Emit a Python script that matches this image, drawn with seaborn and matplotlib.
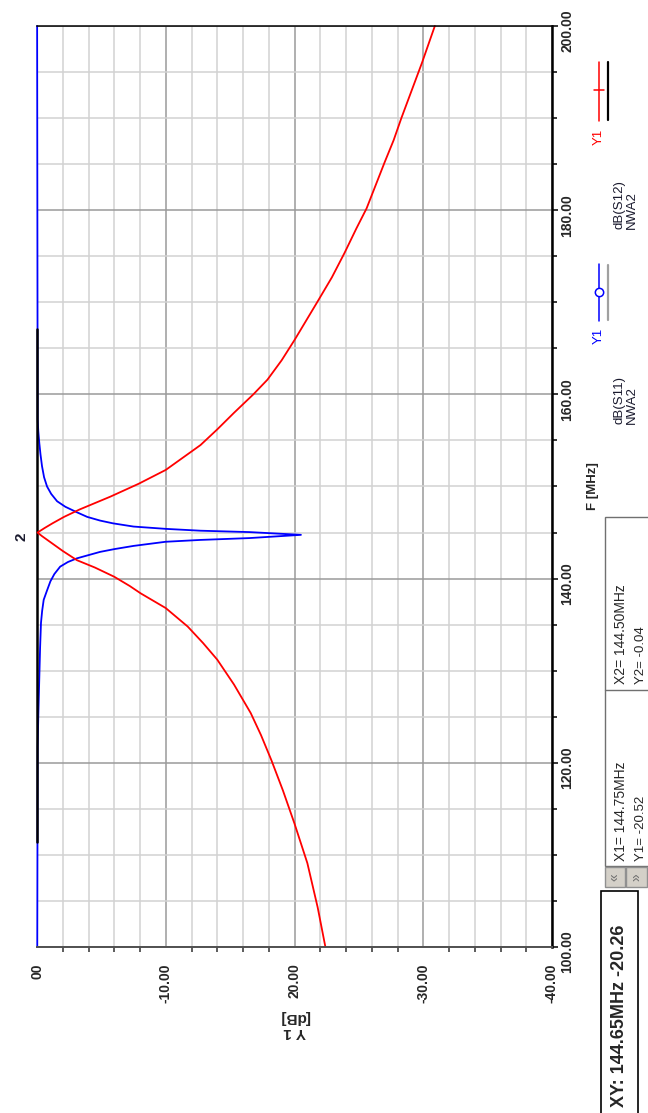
import numpy as np
import pandas as pd
import seaborn as sns
import matplotlib.pyplot as plt
import matplotlib.transforms as mtransforms
from matplotlib.ticker import MultipleLocator
from matplotlib.lines import Line2D
from matplotlib.patches import Rectangle

# S12 (red) trace: frequency [MHz] and level [dB]
freq_s12 = [100, 104.3, 109.1, 113.4, 117.0, 120.3, 123.0, 125.4, 128.5, 131.2, 133.0,
            134.8, 136.8, 138.4, 139.2, 140.2, 141.2, 142.0, 143.0, 144.0, 144.6, 145.0,
            145.5, 146.0, 146.7, 147.5, 148.9, 150.3, 151.8, 153.2, 154.5, 156.2, 158.0,
            160.0, 161.6, 163.7, 165.9, 168.0, 170.1, 172.7, 175.4, 178.0, 180.2, 182.7,
            185.2, 187.6, 190.0, 193.0, 196.0, 200]
s12_db = [-22.4, -21.8, -21.0, -20.0, -19.1, -18.2, -17.4, -16.6, -15.3, -14.0, -12.9,
          -11.7, -10.0, -8.05, -7.2, -6.0, -4.5, -3.1, -2.0, -1.0, -0.4, -0.04,
          -0.6, -1.2, -2.1, -3.3, -5.7, -7.9, -10.0, -11.4, -12.7, -14.0, -15.3,
          -16.8, -17.9, -19.0, -20.0, -20.9, -21.8, -22.9, -23.9, -24.8, -25.6, -26.3,
          -27.0, -27.7, -28.3, -29.1, -29.9, -30.9]

# S11 (blue) trace
freq_s11 = [100, 121.7, 125.0, 129.3, 132.5, 135.2, 136.5, 137.7, 138.6, 139.7, 140.5,
            141.3, 141.8, 142.2, 142.9, 143.2, 143.55, 144.0, 144.2, 144.4, 144.75,
            145.05, 145.2, 145.4, 145.65, 146.0, 146.3, 146.7, 147.2, 147.8, 148.4,
            149.2, 150.0, 151.0, 152.2, 153.5, 154.7, 156.0, 157.3, 200]
s11_db = [-0.02, -0.05, -0.1, -0.18, -0.24, -0.31, -0.4, -0.52, -0.75, -1.04, -1.35,
          -1.8, -2.4, -3.1, -4.9, -6.0, -7.5, -10.0, -12.7, -16.5, -20.5,
          -16.5, -12.7, -10.0, -7.5, -5.9, -4.9, -3.9, -3.1, -2.2, -1.56,
          -1.1, -0.78, -0.55, -0.39, -0.27, -0.18, -0.1, -0.05, -0.01]

# black memory trace on the 0 dB line
freq_mem = [111.4, 167.1]
mem_db = [0.0, 0.0]

db_ticks = [0, -10, -20, -30, -40]
db_tick_labels = ["00", "-10.00", "20.00", "-30.00", "-40.00"]
freq_ticks = [100, 120, 140, 160, 180, 200]
freq_tick_labels = ["100.00", "120.00", "140.00", "160.00", "180.00", "200.00"]

marker2_freq = 144.50
marker_texts = [("X2= 144.50MHz", "Y2= -0.04"), ("X1= 144.75MHz", "Y1= -20.52")]
readout = "XY: 144.65MHz -20.26"

sns.set_style("white")
plt.rcParams['font.family'] = ['Liberation Sans', 'DejaVu Sans']

W, H = 648, 1113
fig = plt.figure(figsize=(W / 100, H / 100), dpi=100)
ax = fig.add_axes([37 / W, 1 - 947 / H, 515 / W, 921 / H])


def fx(px):
    return px / W


def fy(py):
    return 1 - py / H


s11 = pd.DataFrame({'freq': freq_s11, 'db': s11_db})
s12 = pd.DataFrame({'freq': freq_s12, 'db': s12_db})
mem = pd.DataFrame({'freq': freq_mem, 'db': mem_db})

sns.lineplot(data=s11, x='db', y='freq', orient='y', sort=False, estimator=None,
             color='#0000ff', lw=1.3, ax=ax, clip_on=False)
sns.lineplot(data=mem, x='db', y='freq', orient='y', sort=False, estimator=None,
             color='black', lw=1.8, ax=ax, clip_on=False)
sns.lineplot(data=s12, x='db', y='freq', orient='y', sort=False, estimator=None,
             color='#ff0000', lw=1.3, ax=ax, clip_on=False)

ax.set_xlim(0, -40)
ax.set_ylim(100, 200)
ax.set_xticks(db_ticks, labels=db_tick_labels)
ax.xaxis.set_minor_locator(MultipleLocator(2))
ax.set_yticks(freq_ticks, labels=freq_tick_labels)
ax.yaxis.set_minor_locator(MultipleLocator(5))
ax.yaxis.tick_right()
ax.yaxis.set_label_position('right')

ax.grid(which='minor', color='#d2d2d2', lw=1.1)
ax.grid(which='major', color='#9a9a9a', lw=1.1)
ax.set_axisbelow(True)

ax.tick_params(axis='x', which='major', length=10.8, width=1.1, color='black', pad=1,
               labelrotation=90, labelsize=10)
ax.tick_params(axis='x', which='minor', length=3.6, width=1.1, color='#303030', bottom=True)
ax.tick_params(axis='y', which='major', length=4.5, width=1.1, color='black', pad=1.5,
               labelrotation=90, labelsize=10, right=True, left=False)
ax.tick_params(axis='y', which='minor', length=3.6, width=1.1, color='black',
               right=True, left=False)

for lbl in ax.get_xticklabels():
    lbl.set_fontweight('bold')
shift = mtransforms.ScaledTranslation(0, -5 / 100, fig.dpi_scale_trans)
for lbl in ax.get_yticklabels():
    lbl.set_fontweight('bold')
    lbl.set_va('center')
    lbl.set_transform(lbl.get_transform() + shift)

ax.spines['left'].set_visible(False)
ax.spines['top'].set_color('black')
ax.spines['top'].set_linewidth(1.1)
ax.spines['right'].set_color('black')
ax.spines['right'].set_linewidth(1.8)
ax.spines['bottom'].set_color('#505050')
ax.spines['bottom'].set_linewidth(1.4)

ax.set_xlabel("Y 1\n[dB]", rotation=180, fontweight='bold', fontsize=11,
              labelpad=5, linespacing=1.1)
ax.set_ylabel("F [MHz]", rotation=90, fontweight='bold', fontsize=9.5, labelpad=9)

# marker 2 flag
ax.annotate("2", xy=(0, marker2_freq), xytext=(-11, 0), textcoords='offset points',
            rotation=90, ha='center', va='center', fontsize=11, fontweight='bold',
            color='#1a1a2e', annotation_clip=False)

# legend, drawn rotated like the rest of the picture
tf = fig.transFigure
fig.add_artist(Line2D([fx(599), fx(599)], [fy(62), fy(121)], color='#ff0000', lw=1.1, transform=tf))
fig.add_artist(Line2D([fx(594), fx(604)], [fy(90), fy(90)], color='#ff0000', lw=1.1, transform=tf))
fig.add_artist(Line2D([fx(608), fx(608)], [fy(62), fy(120)], color='black', lw=1.6, transform=tf))
fig.text(fx(599), fy(137), "Y1", rotation=90, ha='center', va='center', fontsize=9.5, color='#ff0000')
fig.text(fx(614), fy(229), "dB(S12)\nNWA2", rotation=90, ha='left', va='bottom',
         fontsize=9.5, linespacing=1.0, color='#1a1a2e')

fig.add_artist(Line2D([fx(599), fx(599)], [fy(264), fy(321)], color='#0000ff', lw=1.1, transform=tf))
fig.add_artist(Line2D([fx(599)], [fy(292)], marker='o', ms=6, mfc='white', mec='#0000ff',
                      mew=1.1, transform=tf))
fig.add_artist(Line2D([fx(608), fx(608)], [fy(265), fy(320)], color='#a0a0a0', lw=1.6, transform=tf))
fig.text(fx(599), fy(336), "Y1", rotation=90, ha='center', va='center', fontsize=9.5, color='#0000ff')
fig.text(fx(614), fy(424), "dB(S11)\nNWA2", rotation=90, ha='left', va='bottom',
         fontsize=9.5, linespacing=1.0, color='#1a1a2e')

# marker readout table
fig.add_artist(Rectangle((fx(605), fy(866)), fx(660) - fx(605), fy(517) - fy(866),
                         fc='white', ec='#707070', lw=1.0, transform=tf))
fig.add_artist(Line2D([fx(605), fx(648)], [fy(690), fy(690)], color='#707070', lw=1.0, transform=tf))
for (xt, yt), start in zip(marker_texts, [684, 861]):
    fig.text(fx(621), fy(start), xt, rotation=90, ha='center', va='bottom', fontsize=10)
    fig.text(fx(640.5), fy(start), yt, rotation=90, ha='center', va='bottom', fontsize=9.5)

# scroll buttons
for x0, x1, arrow in [(605, 625, "\u00ab"), (626, 647, "\u00bb")]:
    fig.add_artist(Rectangle((fx(x0), fy(887)), fx(x1) - fx(x0), fy(867) - fy(887),
                             fc='#d4d0c8', ec='#909090', lw=1.0, transform=tf))
    fig.text(fx((x0 + x1) / 2), fy(877), arrow, rotation=90, ha='center', va='center',
             fontsize=10, color='#707070')

# cursor readout box
fig.add_artist(Rectangle((fx(601), fy(1125)), fx(638) - fx(601), fy(891) - fy(1125),
                         fc='white', ec='black', lw=1.2, transform=tf))
fig.text(fx(619.5), fy(1107), readout, rotation=90, ha='center', va='bottom',
         fontsize=13, fontweight='bold')

fig.savefig("out.png", dpi=100)
